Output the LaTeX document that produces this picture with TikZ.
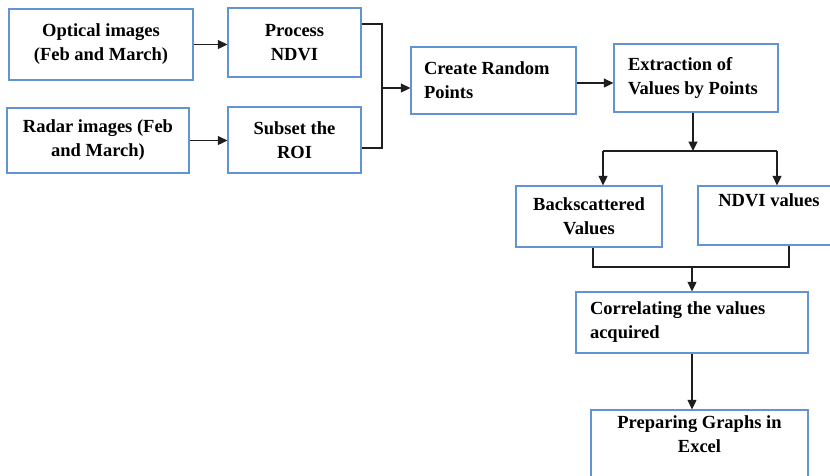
\documentclass[tikz,border=0pt]{standalone}
\usepackage{fontspec}
\setmainfont{Liberation Serif}
\usetikzlibrary{arrows.meta}
\definecolor{boxblue}{RGB}{98,148,212}
\definecolor{lineclr}{RGB}{30,30,30}
\tikzset{
  box/.style={draw=boxblue, line width=1.3pt, inner sep=0pt, align=flush center,
    font=\fontsize{18.5}{24}\selectfont\bfseries},
  lbox/.style={box, align=flush left},
  conn/.style={draw=lineclr, line width=1.3pt},
  arr/.style={conn, -{Triangle[length=9.5pt,width=9pt]}}
}
\begin{document}
\begin{tikzpicture}[x=1pt,y=-1pt]
\clip (0,0) rectangle (830,475);
\fill[white] (0,0) rectangle (830,475);
% boxes
\node[box, minimum width=184pt, minimum height=71pt] (opt) at (101,44.5) {Optical images\\(Feb and March)};
\node[box, minimum width=133pt, minimum height=69pt] (proc) at (294.5,42.5) {Process\\NDVI};
\node[box, minimum width=182pt, minimum height=65pt] (radar) at (98,140.5) {Radar images (Feb\\and March)};
\node[box, minimum width=133pt, minimum height=66pt] (subset) at (294.5,140) {Subset the\\ROI};
\node[lbox, minimum width=165pt, minimum height=67pt, text width=139pt] (rand) at (493.5,80.5) {Create Random\\Points};
\node[lbox, minimum width=164pt, minimum height=68pt, text width=136pt] (extr) at (696,78) {Extraction of\\Values by Points};
\node[box, minimum width=146pt, minimum height=61pt] (back) at (589,216.5) {Backscattered\\Values};
\node[box, minimum width=142pt, minimum height=59pt] (ndvi) at (769,215.5) {NDVI values\\\strut};
\node[lbox, minimum width=232pt, minimum height=61pt, text width=204pt] (corr) at (692,322.5) {Correlating the values\\acquired};
\node[box, minimum width=217pt, minimum height=80pt] (prep) at (699.5,450) {Preparing Graphs in\\Excel\\\strut};
% connectors
\draw[arr] (opt.east) -- (opt.east -| proc.west);
\draw[arr] (radar.east) -- (radar.east -| subset.west);
\coordinate (j1) at (382,88);
\draw[conn] ([yshift=18.5pt]proc.east) -| (j1) |- ([yshift=-8pt]subset.east);
\draw[arr] (j1) -- (j1 -| rand.west);
\draw[arr] ([yshift=-2.5pt]rand.east) -- ([yshift=-2.5pt]rand.east -| extr.west);
\coordinate (j2) at (693,151);
\coordinate (bl) at (603,151);
\coordinate (br) at (777,151);
\draw[arr] (j2 |- extr.south) -- (j2);
\draw[conn] (bl) -- (br);
\draw[arr] (bl) -- (bl |- back.north);
\draw[arr] (br) -- (br |- ndvi.north);
\coordinate (cl) at (593,267);
\coordinate (cr) at (789,267);
\coordinate (cm) at (692,267);
\draw[conn] (cl |- back.south) -- (cl) -- (cr) -- (cr |- ndvi.south);
\draw[arr] (cm) -- (cm |- corr.north);
\draw[arr] (cm |- corr.south) -- (cm |- prep.north);
\end{tikzpicture}
\end{document}
